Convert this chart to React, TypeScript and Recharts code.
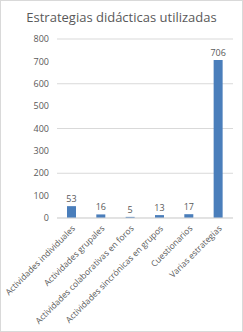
import { Bar, BarChart, CartesianGrid, LabelList, XAxis, YAxis } from "recharts"

const categories = [
  "Actividades individuales",
  "Actividades grupales",
  "Actividades colaborativas en foros",
  "Actividades sincrónicas en grupos",
  "Cuestionarios",
  "Varias estrategias",
]
const values = [53, 16, 5, 13, 17, 706]
const yTicks = [0, 100, 200, 300, 400, 500, 600, 700, 800]

const data = categories.map((name, i) => ({ name, value: values[i] }))

const font = "'Open Sans', 'Liberation Sans', sans-serif"
const gray = "#595959"

function SlantTick(props: any) {
  const { x, y, payload } = props
  const tx = x + 4
  const ty = y + 9
  return (
    <text
      x={tx}
      y={ty}
      transform={`rotate(-45 ${tx} ${ty})`}
      textAnchor="end"
      fontSize={8.5}
      fill={gray}
      fontFamily={font}
    >
      {payload.value}
    </text>
  )
}

export default function App() {
  return (
    <div
      style={{
        position: "absolute",
        left: 0,
        top: 0,
        width: 243,
        height: 332,
        boxSizing: "border-box",
        border: "1px solid #d9d9d9",
        background: "#fff",
        fontFamily: font,
      }}
    >
      <div
        style={{
          position: "absolute",
          top: 7,
          left: 0,
          width: 241,
          textAlign: "center",
          fontSize: 13,
          color: gray,
        }}
      >
        Estrategias didácticas utilizadas
      </div>
      <BarChart
        width={241}
        height={330}
        data={data}
        margin={{ top: 38, right: 9, bottom: 0, left: 0 }}
        barCategoryGap="34%"
      >
        <CartesianGrid vertical={false} stroke="#d9d9d9" />
        <XAxis
          dataKey="name"
          interval={0}
          height={113}
          tickLine={false}
          axisLine={{ stroke: "#d9d9d9" }}
          tickSize={0}
          tick={<SlantTick />}
        />
        <YAxis
          domain={[0, 800]}
          ticks={yTicks}
          width={56}
          axisLine={false}
          tickLine={false}
          tickSize={0}
          tickMargin={8}
          tick={{ fontSize: 9, fill: gray, fontFamily: font }}
        />
        <Bar dataKey="value" fill="#4A7EBB" isAnimationActive={false}>
          <LabelList
            dataKey="value"
            position="top"
            offset={4}
            style={{ fontSize: 9, fill: gray, fontFamily: font }}
          />
        </Bar>
      </BarChart>
    </div>
  )
}
